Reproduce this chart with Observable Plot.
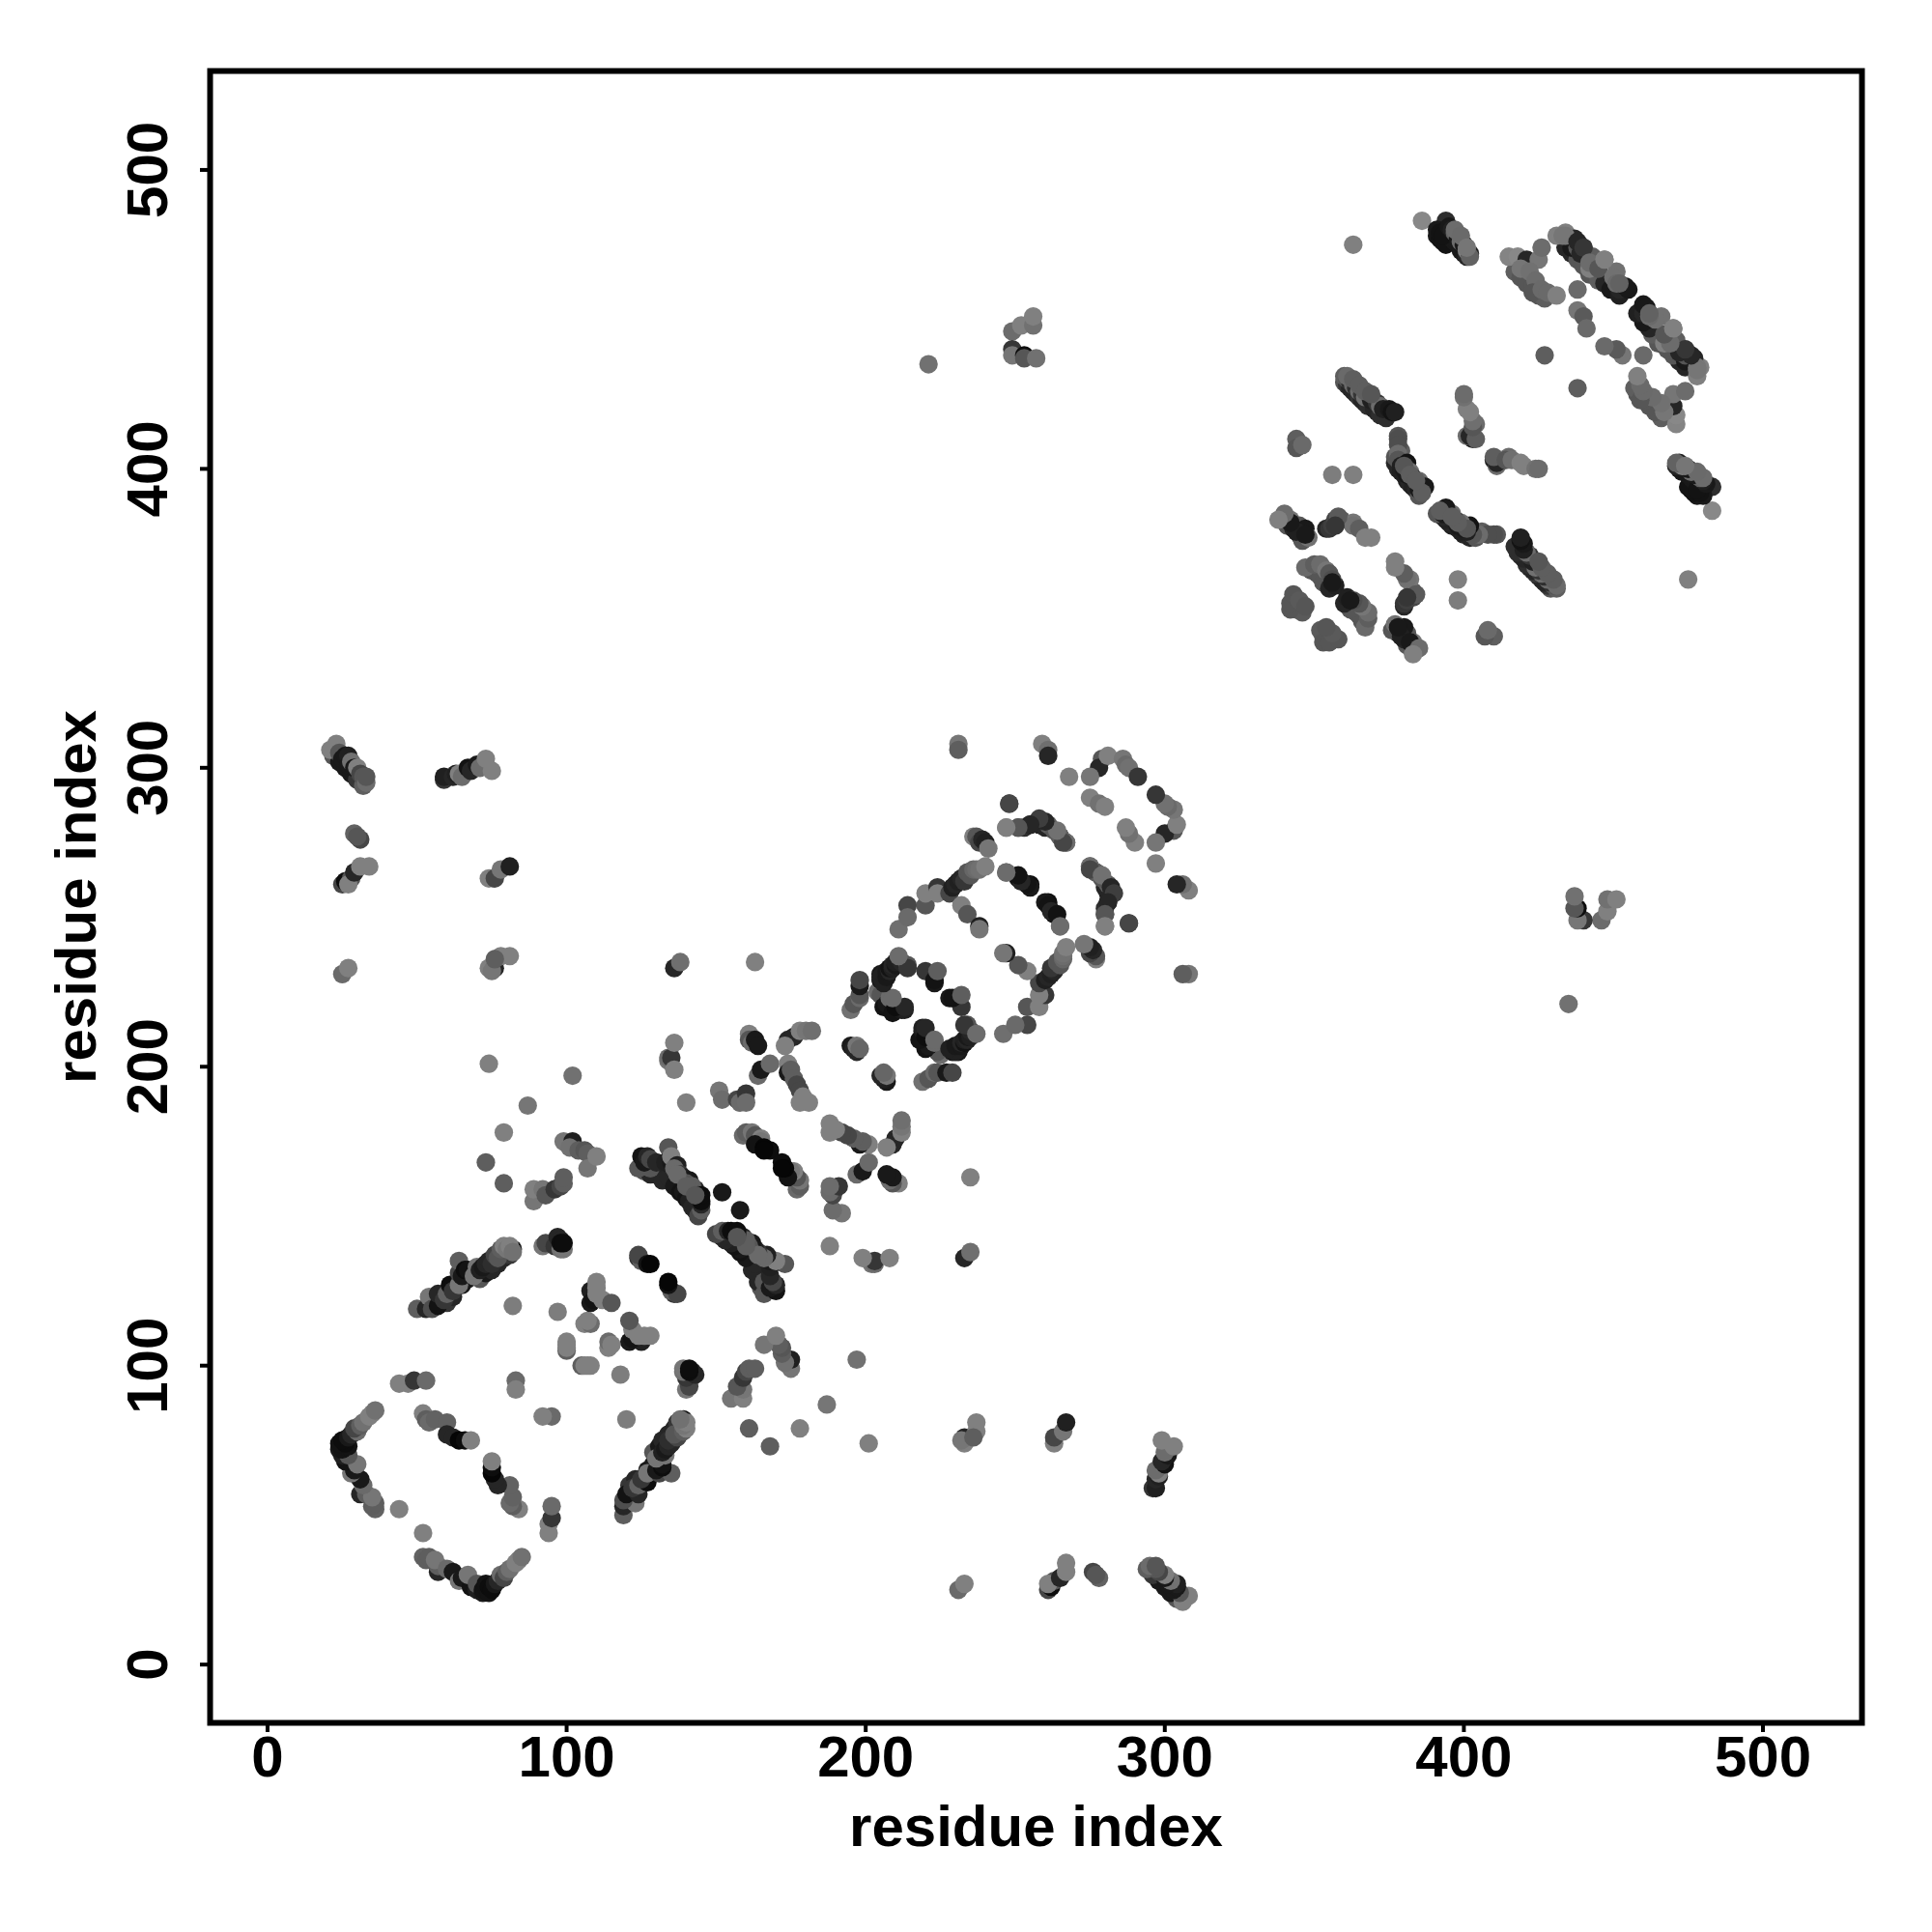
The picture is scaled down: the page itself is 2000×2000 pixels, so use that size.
<!DOCTYPE html>
<html>
<head>
<meta charset="utf-8">
<style>html,body{margin:0;padding:0;background:#fff}svg{display:block}</style>
<script src="https://cdn.jsdelivr.net/npm/d3@7"></script>
<script src="https://cdn.jsdelivr.net/npm/@observablehq/plot@0.6"></script>
</head>
<body>
<div id="chart"></div>
<script>
// Contacts are [residue i, residue j, shade], i < j; the map is symmetric.
const strandsUnder = [[391,478,20],[392,477,15],[393,476,15],[394,475,15],[396,477,20],[397,476,20],[398,475,20],[399,473,20],[400,472,20],[401,471,30],[360,429,60],[361,428,40],[362,427,30],[363,426,30],[364,425,30],[365,424,40],[366,423,30],[367,422,30],[368,421,35],[370,420,30],[371,419,30],[372,418,35],[374,417,35],[377,402,30],[378,400,30],[379,399,25],[380,398,25],[381,396,25],[382,395,30],[383,394,25],[384,393,30],[385,391,60],[341,381,60],[343,380,30],[345,378,40],[346,376,60],[349,366,60],[351,365,60],[352,364,60],[353,362,60],[355,360,30],[357,361,25],[343,354,60],[344,353,60],[346,352,65],[342,353,60],[434,474,30],[436,472,30],[438,470,60],[440,468,60],[442,465,60],[445,463,70],[447,462,30],[449,460,20],[452,458,25],[417,466,70],[419,464,60],[421,462,60],[423,461,60],[425,458,60],[427,457,70],[126,165,60],[128,164,30],[130,164,30],[132,162,30],[134,163,30],[136,160,20],[138,158,15],[139,158,20],[140,156,15],[141,155,25],[142,153,30],[143,152,30],[144,150,50],[60,121,40],[62,123,30],[65,127,20],[67,129,20],[69,131,15],[71,129,60],[73,131,20],[75,132,30],[77,134,30],[79,136,30],[81,137,40],[22,304,60],[24,302,20],[26,300,20],[28,298,20],[30,296,40],[32,294,70]];
const hairpinLeft = [[36,52,75],[35,53,70],[36,54,70],[31,57,30],[33,57,70],[35,56,110],[32,60,85],[31,62,20],[28,64,110],[29,65,20],[26,68,15],[30,67,110],[25,70,25],[27,70,60],[24,72,20],[25,72,15],[26,73,15],[27,73,15],[24,74,15],[26,74,10],[25,75,10],[27,76,20],[28,77,30],[30,78,90],[29,79,50],[31,80,70],[32,81,100],[34,83,125],[35,84,125],[36,85,100],[44,52,125]];
const hairpinInner = [[52,84,125],[53,82,70],[54,81,85],[56,82,75],[60,81,75],[60,77,30],[62,76,30],[64,75,5],[66,75,10],[68,75,125],[44,94,125],[47,94,125],[49,95,40],[53,95,85],[83,95,85],[83,92,125]];
const helixA = [[50,119,70],[53,119,30],[54,123,110],[55,119,55],[57,120,15],[57,124,30],[59,122,40],[60,124,75],[61,127,10],[62,125,40],[64,127,110],[64,131,50],[64,135,70],[65,130,20],[66,132,10],[67,132,15],[69,130,110],[70,133,110],[71,132,25],[72,133,20],[73,134,30],[74,135,30],[75,134,35],[76,137,50],[77,136,60],[78,139,70],[82,139,15],[79,140,125],[80,139,110],[81,140,125],[82,138,100]];
const isolated = [[74,201,125],[102,197,100],[87,187,110],[79,178,125],[73,168,70],[79,161,70],[82,120,120],[97,118,120],[140,188,125],[136,233,30],[138,235,95],[163,235,125],[221,435,100],[248,288,50],[268,297,125]];
const clusterB = [[92,140,110],[93,141,50],[96,140,40],[97,143,30],[98,142,30],[98,139,100],[99,139,110],[98,141,10],[99,141,10]];
const clusterC = [[100,105,70],[100,106,125],[100,107,125],[100,108,125],[106,114,125],[108,114,90],[107,115,125],[108,121,20],[108,125,25],[109,122,15],[110,124,125],[112,122,125],[110,126,125],[110,128,125],[115,121,60]];
const clusterD = [[124,136,40],[125,135,70],[124,137,50],[127,134,15],[128,134,5]];
const clusterE = [[99,175,110],[102,175,25],[101,173,100],[104,172,70],[106,172,60],[107,171,70],[107,166,110],[110,170,125],[89,155,110],[89,159,125],[92,159,110],[93,157,60],[96,159,40],[98,160,50],[99,161,70],[99,163,70]];
const strandF = [[134,202,110],[134,203,90],[135,203,40],[136,199,125],[136,208,125],[124,166,60],[128,166,60],[125,170,15],[126,168,20],[127,170,30],[128,169,50],[134,173,60],[130,168,30],[133,168,25],[135,168,20],[135,170,125],[137,165,20],[137,167,25],[136,166,85],[138,164,40],[139,163,25],[141,162,20],[140,161,60],[143,159,30],[142,160,70],[144,157,30],[145,152,70],[145,154,30],[145,155,10],[145,157,10],[152,158,20],[137,164,85],[140,160,70],[143,157,60]];
const crossG = [[161,211,125],[161,209,60],[162,208,90],[163,209,20],[164,207,20],[164,197,85],[165,199,20],[168,201,85],[174,209,30],[176,210,30],[173,207,125],[178,212,125],[180,212,110],[182,212,95],[174,201,125],[174,198,20],[175,199,70],[176,196,70],[177,194,50],[178,192,50],[179,190,125],[178,188,125],[181,188,125],[151,192,110],[152,189,90],[157,189,50],[158,188,85],[160,191,40],[160,188,90]];
const clusterH = [[159,177,85],[160,178,70],[162,178,110],[163,177,60],[165,176,125],[165,175,110],[163,174,15],[168,172,10],[166,173,5],[166,172,5]];
const helixJ = [[195,219,100],[196,221,60],[198,223,85],[198,224,60],[198,227,20],[198,229,50],[195,207,20],[196,206,25],[197,205,30],[197,207,110],[198,206,80],[204,225,90],[205,224,60],[206,220,15],[207,221,20],[208,223,85],[209,218,15],[212,219,20],[213,219,25],[210,220,10],[213,220,30],[209,223,85],[205,229,20],[205,231,20],[205,230,25],[206,228,25],[206,231,25],[207,230,20],[207,232,20],[208,232,30],[208,233,15],[209,233,25],[209,234,30],[210,234,20],[210,235,25],[212,235,30],[214,234,60],[214,233,40],[211,237,90],[220,232,40],[223,228,20],[223,229,15],[224,232,70]];
const helixK = [[211,246,95],[214,254,50],[214,250,85],[220,254,60],[220,258,125],[224,260,40],[224,258,125],[228,258,50],[229,260,25],[230,261,30],[231,262,25],[232,263,30],[233,262,40],[234,265,60],[235,264,60],[236,266,80],[237,266,90],[238,266,100],[240,267,125],[236,277,125],[237,277,60],[238,275,50],[239,276,30],[240,275,25],[241,273,110],[232,254,125],[234,251,60],[238,247,25],[238,246,110],[247,265,85],[251,263,15],[255,261,10],[255,260,20],[261,254,15],[262,252,30],[264,251,15],[265,247,90]];
const helixL = [[247,280,125],[251,280,50],[253,280,35],[255,281,30],[258,281,25],[260,280,30],[261,281,70],[263,279,60],[265,277,55],[267,275,85],[275,267,90],[277,265,70],[275,266,50],[279,264,100],[282,260,30],[283,258,45],[281,255,30],[280,251,60],[280,247,125],[288,248,50]];
const farLeft = [[21,306,125],[23,308,125],[24,305,60],[25,303,20],[26,304,20],[27,304,25],[27,301,20],[28,302,100],[29,300,20],[30,300,125],[31,298,50],[32,297,60],[33,295,90],[33,297,60],[59,296,40],[59,297,25],[62,297,30],[63,298,25],[64,298,125],[65,297,90],[67,300,15],[68,299,30],[70,301,20],[71,300,90],[73,303,125],[75,299,125],[29,278,75],[31,276,50],[30,277,60],[25,261,50],[26,262,10],[28,263,60],[27,261,125],[29,265,30],[31,267,125],[34,267,125],[74,263,125],[76,263,50],[78,266,110],[81,267,25],[25,231,85],[27,233,125],[74,233,125],[76,233,30],[78,237,125],[81,237,125],[75,232,110],[76,236,70]];
const farTop = [[249,446,90],[252,448,125],[256,448,100],[256,451,125],[249,440,40],[249,438,110],[253,438,10],[253,437,60],[257,437,100],[231,308,110],[231,306,70],[259,308,125],[261,306,95],[261,304,30]];
const hairpinM = [[279,303,60],[278,300,30],[275,297,110],[275,290,125],[278,288,100],[280,287,125],[281,304,125],[286,303,110],[287,301,85],[288,300,100],[291,297,40]];
const domainN = [[363,475,125],[386,483,136],[394,483,35],[391,480,20],[392,479,15],[393,478,15],[395,481,20],[396,480,25],[397,479,75],[398,477,20],[399,476,90],[400,475,20],[401,473,125],[402,472,25],[402,471,75],[397,480,90],[399,478,85],[401,474,110]];
const domainP = [[415,471,130],[418,471,136],[421,470,30],[419,467,110],[425,470,110],[426,474,90],[422,466,100],[424,463,90],[423,459,60],[426,460,85],[428,459,85],[431,458,125],[427,438,70],[431,478,125],[434,479,125],[437,477,30],[436,474,20],[438,474,60],[440,474,125],[443,471,70],[442,467,125],[447,470,125],[451,466,100],[452,462,90],[452,460,30],[455,460,20],[438,460,85],[438,453,110],[440,451,65],[441,447,85]];
const domainQ = [[434,478,110],[433,478,110],[438,476,30],[439,472,30],[440,474,40],[442,469,90],[445,467,60],[447,470,125],[450,464,100],[451,462,85],[454,461,20],[452,462,75]];
const domainR = [[360,431,70],[361,430,60],[362,429,35],[363,428,85],[364,427,35],[365,426,90],[366,425,40],[367,424,100],[369,423,25],[371,422,40],[372,421,90],[373,420,25],[375,420,20],[376,419,15],[377,419,25],[361,431,85],[363,430,70],[365,428,70],[367,426,70],[369,425,60]];
const domainS = [[344,410,70],[344,407,60],[346,408,85],[356,398,120],[363,398,125],[378,411,60],[379,406,70],[377,404,60],[378,410,55],[378,408,55],[378,405,90],[378,403,60],[381,402,15],[379,401,25],[380,400,20],[382,399,100],[381,398,20],[383,397,20],[385,396,90],[384,395,30],[387,394,20],[385,393,20],[386,392,70],[380,401,60],[382,398,70],[384,396,70]];
const domainT = [[403,410,25],[401,411,90],[402,411,30],[404,410,70],[404,415,90],[403,414,60],[403,416,95],[402,419,125],[401,420,125],[400,424,100],[400,425,90]];
const domainU = [[340,384,125],[342,383,110],[345,381,60],[347,380,20],[344,379,25],[348,377,100],[347,378,20],[342,382,20],[340,385,90],[338,383,125],[354,380,30],[355,380,40],[356,381,45],[357,383,50],[359,383,70],[363,382,110],[363,381,100],[365,380,70],[367,377,125],[369,377,125],[358,384,65],[357,381,40]];
const domainV = [[347,367,85],[350,368,70],[352,368,90],[354,366,110],[355,365,60],[356,363,55],[356,362,20],[342,355,60],[343,358,60],[345,356,65],[347,354,60]];

const contacts = [...strandsUnder, ...hairpinLeft, ...hairpinInner, ...helixA, ...isolated, ...clusterB, ...clusterC, ...clusterD, ...clusterE, ...strandF, ...crossG, ...clusterH, ...helixJ, ...helixK, ...helixL, ...farLeft, ...farTop, ...hairpinM, ...domainN, ...domainP, ...domainQ, ...domainR, ...domainS, ...domainT, ...domainU, ...domainV];
const rows = contacts.flatMap(([i, j, s]) => [{x: i, y: j, s}, {x: j, y: i, s}]);
const tickValues = [0, 100, 200, 300, 400, 500];
const axisTitle = "residue index";

const font = {fontSize: 60, fontWeight: "bold"};
const chart = Plot.plot({
  width: 2000,
  height: 2000,
  marginLeft: 217, marginRight: 73, marginTop: 73, marginBottom: 217,
  style: {fontFamily: "'Liberation Sans', Arial, sans-serif", background: "#fff", color: "#000"},
  x: {domain: [-19.2, 533.1]},
  y: {domain: [-19.5, 533.1]},
  color: {type: "linear", domain: [0, 30, 60, 85, 110, 136], range: ["#000000", "#262626", "#565656", "#6a6a6a", "#767676", "#888888"], interpolate: "rgb"},
  marks: [
    Plot.dot(rows, {x: "x", y: "y", r: 9.6, fill: "s", stroke: "none"}),
    Plot.frame({stroke: "#000", strokeWidth: 6}),
    Plot.axisX({ticks: tickValues, tickFormat: d => String(d), tickSize: 10, tickPadding: 3, strokeWidth: 4, ...font,
      label: axisTitle, labelAnchor: "center", labelArrow: "none", labelOffset: 127}),
    Plot.axisY({ticks: tickValues, tickFormat: d => String(d), tickSize: 10, tickPadding: 35, strokeWidth: 4, tickRotate: -90, ...font,
      label: axisTitle, labelAnchor: "center", labelArrow: "none", labelOffset: 161})
  ]
});
document.getElementById("chart").appendChild(chart);
</script>
</body>
</html>
